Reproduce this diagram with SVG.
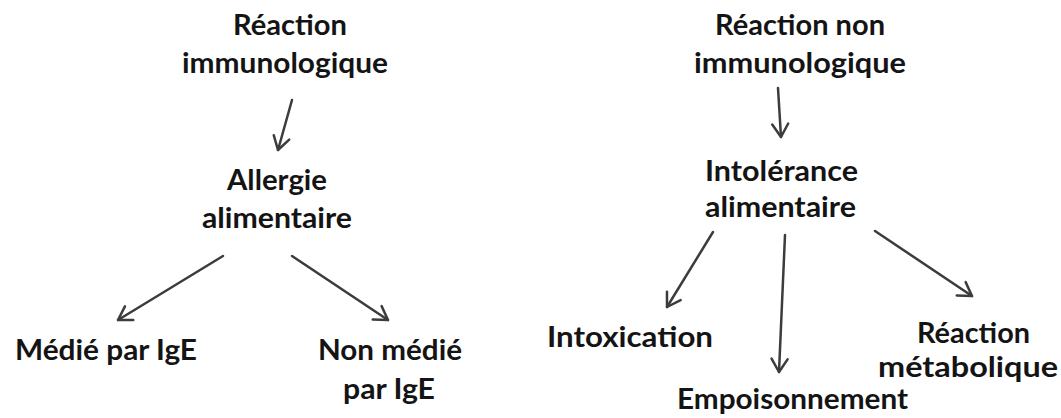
<svg xmlns="http://www.w3.org/2000/svg" width="1061" height="418" viewBox="0 0 1061 418">
<style>
text { font-family: Lato, "Liberation Sans", sans-serif; font-weight: bold; font-size: 29px; fill: #141414; }
.c { fill: none; stroke: #3c3c3c; stroke-width: 2.5; stroke-linecap: round; }
</style>
<defs>
<marker id="ah" markerUnits="userSpaceOnUse" markerWidth="30" markerHeight="30" refX="15" refY="15" orient="auto" viewBox="0 0 30 30">
<path d="M 2 7 L 15 15 L 2 23" fill="none" stroke="#3c3c3c" stroke-width="2.5" stroke-linecap="round" stroke-linejoin="round"/>
</marker>
</defs>
<rect width="1061" height="418" fill="#ffffff"/>
<g id="n-reaction-immuno">
<text x="233" y="35" textLength="114" lengthAdjust="spacingAndGlyphs">Réaction</text>
<text x="182" y="73" textLength="206" lengthAdjust="spacingAndGlyphs">immunologique</text>
</g>
<g id="n-allergie">
<text x="227" y="190" textLength="100" lengthAdjust="spacingAndGlyphs">Allergie</text>
<text x="202" y="228" textLength="150" lengthAdjust="spacingAndGlyphs">alimentaire</text>
</g>
<g id="n-medie">
<text x="15" y="360" textLength="182" lengthAdjust="spacingAndGlyphs">Médié par IgE</text>
</g>
<g id="n-non-medie">
<text x="318" y="360" textLength="144" lengthAdjust="spacingAndGlyphs">Non médié</text>
<text x="343" y="399" textLength="92" lengthAdjust="spacingAndGlyphs">par IgE</text>
</g>
<g id="n-reaction-non-immuno">
<text x="715" y="35" textLength="170" lengthAdjust="spacingAndGlyphs">Réaction non</text>
<text x="694" y="73" textLength="212" lengthAdjust="spacingAndGlyphs">immunologique</text>
</g>
<g id="n-intolerance">
<text x="705" y="181" textLength="153" lengthAdjust="spacingAndGlyphs">Intolérance</text>
<text x="705" y="217" textLength="151" lengthAdjust="spacingAndGlyphs">alimentaire</text>
</g>
<g id="n-intoxication">
<text x="547" y="347" textLength="166" lengthAdjust="spacingAndGlyphs">Intoxication</text>
</g>
<g id="n-empoisonnement">
<text x="677" y="409" textLength="231" lengthAdjust="spacingAndGlyphs">Empoisonnement</text>
</g>
<g id="n-metabolique">
<text x="917" y="343" textLength="113" lengthAdjust="spacingAndGlyphs">Réaction</text>
<text x="878" y="377" textLength="180" lengthAdjust="spacingAndGlyphs">métabolique</text>
</g>
<g id="connectors">
<line class="c" x1="292" y1="100" x2="278" y2="150" marker-end="url(#ah)"/>
<line class="c" x1="223" y1="256" x2="118" y2="320" marker-end="url(#ah)"/>
<line class="c" x1="292" y1="256" x2="388" y2="320" marker-end="url(#ah)"/>
<line class="c" x1="778" y1="88" x2="781" y2="137" marker-end="url(#ah)"/>
<line class="c" x1="713" y1="232" x2="667" y2="307" marker-end="url(#ah)"/>
<line class="c" x1="785" y1="235" x2="779" y2="372" marker-end="url(#ah)"/>
<line class="c" x1="875" y1="231" x2="972" y2="296" marker-end="url(#ah)"/>
</g>
</svg>
